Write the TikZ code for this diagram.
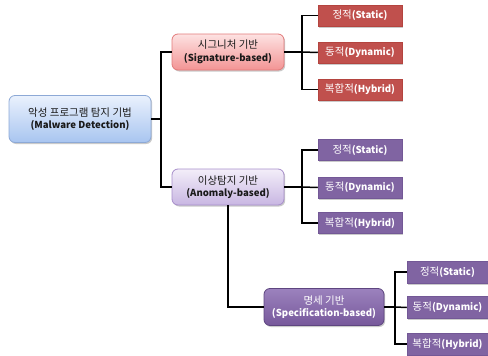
\documentclass[tikz,border=0pt]{standalone}
\usepackage{fontspec}
\setmainfont{Noto Sans CJK KR}
\usetikzlibrary{shadows}
\definecolor{rootTop}{HTML}{EAF1FD}
\definecolor{rootBot}{HTML}{A8C5F0}
\definecolor{rootBorder}{HTML}{8DA9D6}
\definecolor{sigTop}{HTML}{FDE2E2}
\definecolor{sigBot}{HTML}{F39494}
\definecolor{sigBorder}{HTML}{E27A7A}
\definecolor{redLeaf}{HTML}{C0504D}
\definecolor{redBorder}{HTML}{B4443F}
\definecolor{anomTop}{HTML}{F3EEF9}
\definecolor{anomBot}{HTML}{C8B6E2}
\definecolor{anomBorder}{HTML}{A78ECB}
\definecolor{purpleLeaf}{HTML}{8064A2}
\definecolor{purpleBorder}{HTML}{735896}
\definecolor{specTop}{HTML}{9C82BD}
\definecolor{specBot}{HTML}{76589B}
\definecolor{specBorder}{HTML}{5E4680}
\begin{document}
\begin{tikzpicture}[x=1pt,y=-1pt,
  every node/.style={font=\fontsize{10.5}{12.5}\selectfont, align=center, inner sep=0pt},
  boxshadow/.style={drop shadow={shadow xshift=1.2pt, shadow yshift=-1.5pt, opacity=0.35, fill=black!60}},
  rootbox/.style={draw=rootBorder, line width=0.8pt, rounded corners=6pt, top color=rootTop, bottom color=rootBot, minimum width=142pt, minimum height=47pt, boxshadow, text=black!90},
  sigbox/.style={draw=sigBorder, line width=0.8pt, rounded corners=6pt, top color=sigTop, bottom color=sigBot, minimum width=112pt, minimum height=36pt, boxshadow, text=black!90},
  anombox/.style={draw=anomBorder, line width=0.8pt, rounded corners=6pt, top color=anomTop, bottom color=anomBot, minimum width=112pt, minimum height=36pt, boxshadow, text=black!90},
  specbox/.style={draw=specBorder, line width=0.8pt, rounded corners=6pt, top color=specTop, bottom color=specBot, minimum width=120pt, minimum height=37pt, boxshadow, text=white},
  redleaf/.style={fill=redLeaf, draw=redBorder, line width=0.5pt, minimum width=84pt, minimum height=21pt, boxshadow, text=white},
  purpleleaf/.style={fill=purpleLeaf, draw=purpleBorder, line width=0.5pt, minimum width=84pt, minimum height=21pt, boxshadow, text=white},
  purpleleafb/.style={purpleleaf, minimum width=81pt, minimum height=22pt},
  conn/.style={draw=black, line width=1.5pt}
]
\useasboundingbox (0,0) rectangle (488,356);

\newcommand{\enb}[1]{{\fontsize{9.6}{12.5}\selectfont\textbf{#1}}}

\node[rootbox] (root) at (80,119) {악성 프로그램 탐지 기법\\\enb{(Malware Detection)}};
\node[sigbox] (sig) at (228,52) {시그니처 기반\\\enb{(Signature-based)}};
\node[anombox] (anom) at (228,187) {이상탐지 기반\\\enb{(Anomaly-based)}};
\node[specbox] (spec) at (324,307) {명세 기반\\\enb{(Specification-based)}};

\node[redleaf] (s1) at (360,15.5) {정적\enb{(Static)}};
\node[redleaf] (s2) at (360,52.5) {동적\enb{(Dynamic)}};
\node[redleaf] (s3) at (360,89.5) {복합적\enb{(Hybrid)}};

\node[purpleleaf] (a1) at (360,150) {정적\enb{(Static)}};
\node[purpleleaf] (a2) at (360,187.5) {동적\enb{(Dynamic)}};
\node[purpleleaf] (a3) at (360,223) {복합적\enb{(Hybrid)}};

\node[purpleleafb] (p1) at (447.5,272) {정적\enb{(Static)}};
\node[purpleleafb] (p2) at (447.5,307.5) {동적\enb{(Dynamic)}};
\node[purpleleafb] (p3) at (447.5,344) {복합적\enb{(Hybrid)}};

\coordinate (t) at (161,119);
\coordinate (ts) at (302,52);
\coordinate (ta) at (302,187);
\coordinate (tp) at (395,307);

\draw[conn] (root.east) -- (t);
\draw[conn] (sig.west) -| (t) |- (anom.west);
\draw[conn] (sig.east) -- (ts);
\draw[conn] (s1.west) -| (ts) |- (s3.west);
\draw[conn] (ts) -- (s2.west);
\draw[conn] (anom.east) -- (ta);
\draw[conn] (a1.west) -| (ta) |- (a3.west);
\draw[conn] (ta) -- (a2.west);
\draw[conn] (anom.south) |- (spec.west);
\draw[conn] (spec.east) -- (tp);
\draw[conn] (p1.west) -| (tp) |- (p3.west);
\draw[conn] (tp) -- (p2.west);
\end{tikzpicture}
\end{document}
